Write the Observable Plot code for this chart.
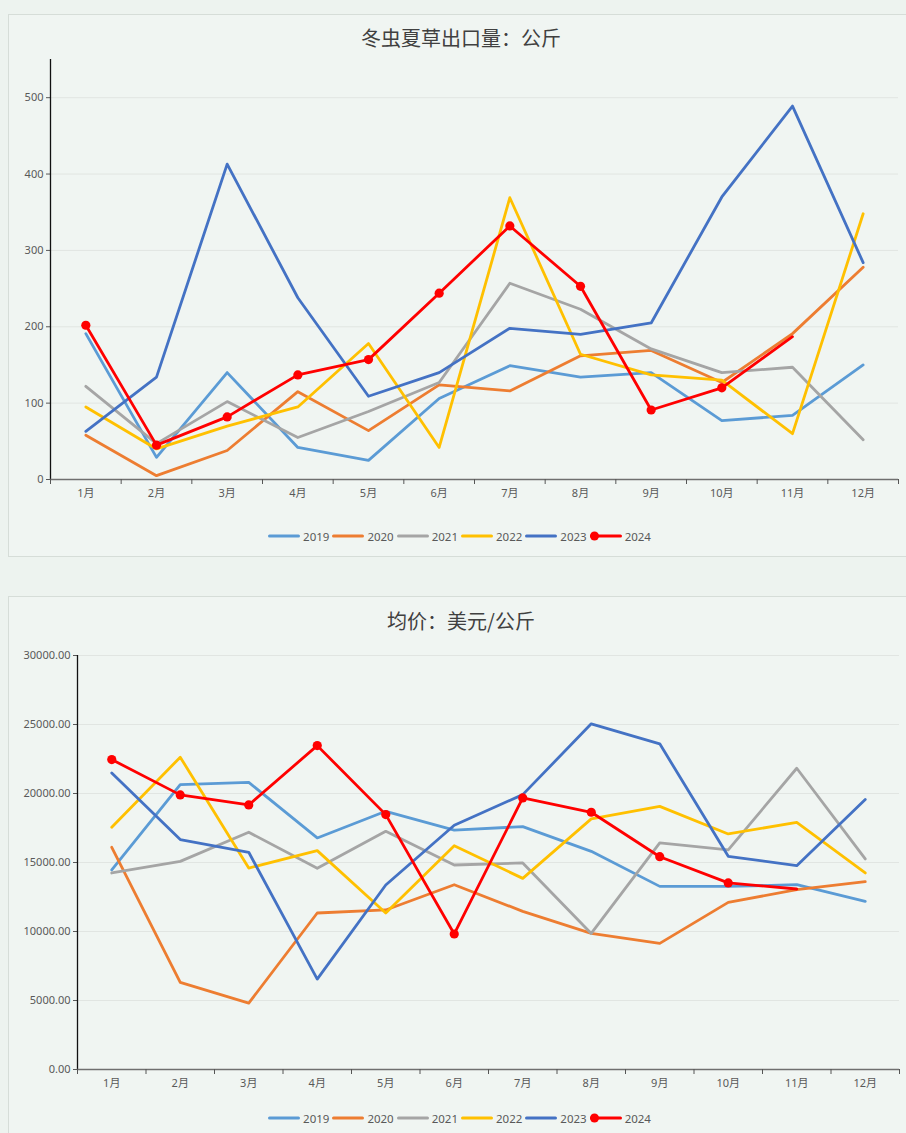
<!DOCTYPE html>
<html><head><meta charset="utf-8">
<script src="https://cdn.jsdelivr.net/npm/d3@7"></script>
<script src="https://cdn.jsdelivr.net/npm/@observablehq/plot@0.6"></script>
<style>
html,body{margin:0;padding:0}
body{width:906px;height:1133px;background:#edf3ef;position:relative;overflow:hidden;font-family:"Noto Sans","Noto Sans CJK SC",sans-serif}
.panel{position:absolute;left:8px;width:920px;background:#f0f5f2;border:1px solid #d6ddd8;box-sizing:border-box}
.title{position:absolute;left:8px;width:906px;text-align:center;font-family:"Noto Sans CJK SC",sans-serif;font-size:20px;color:#404040;line-height:24px;font-weight:400}
.plot{position:absolute;left:0}
.legend{position:absolute;left:8px;width:906px;display:flex;justify-content:center;align-items:center;height:16px;font-size:11.5px;color:#595959}
.item{display:flex;align-items:center;margin-right:3px}
.item span{margin-left:3px}
</style></head>
<body>
<div class="panel" style="top:14px;height:543px"></div>
<div class="panel" style="top:596px;height:560px"></div>
<div class="title" style="top:26px">冬虫夏草出口量：公斤</div>
<div class="title" style="top:609px">均价：美元/公斤</div>
<div id="c1" class="plot" style="top:50px"></div>
<div id="c2" class="plot" style="top:645px"></div>
<div id="l1" class="legend" style="top:528px"></div>
<div id="l2" class="legend" style="top:1110px"></div>
<script>
const months = ["1月","2月","3月","4月","5月","6月","7月","8月","9月","10月","11月","12月"];
const years = ["2019","2020","2021","2022","2023","2024"];
const colors = ["#5B9BD5","#ED7D31","#A5A5A5","#FFC000","#4472C4","#FF0000"];

// 出口量（公斤）
const volume2019 = [191,29,140,42,25,106,149,134,140,77,84,150];
const volume2020 = [58,5,38,115,64,124,116,162,169,127,191,278];
const volume2021 = [122,47,102,55,89,127,257,223,171,140,147,52];
const volume2022 = [95,40,70,95,178,42,369,164,137,130,60,348];
const volume2023 = [63,134,413,238,109,140,198,190,205,370,489,284];
const volume2024 = [202,45,82,137,157,244,332,253,91,120,187];

// 均价（美元/公斤）
const price2019 = [14460,20650,20810,16780,18710,17350,17600,15810,13270,13270,13390,12180];
const price2020 = [16100,6310,4810,11340,11560,13390,11460,9860,9140,12110,13030,13610];
const price2021 = [14240,15080,17190,14580,17260,14820,14970,9860,16420,15910,21830,15260];
const price2022 = [17550,22630,14600,15860,11340,16220,13850,18160,19070,17070,17910,14240];
const price2023 = [21490,16660,15740,6550,13370,17700,19920,25050,23600,15450,14770,19560];
const price2024 = [22460,19900,19170,23470,18470,9820,19680,18640,15420,13520,13080];

const volumeTicks = [0,100,200,300,400,500];
const priceTicks = [0,5000,10000,15000,20000,25000,30000];

const toRows = (arr, year) => arr.map((v, i) => ({year, month: months[i], i: i + 0.5, v}));

function makeChart(seriesList, {yMax, ticks, fmt, width, height, marginLeft, marginRight, marginTop, marginBottom}) {
  const marks = [
    Plot.ruleY(ticks.filter(t => t > 0), {x1: 0, x2: 12, stroke: "#e1e5e2", strokeWidth: 1}),
    Plot.axisY(ticks, {tickSize: 4, tickPadding: 3, tickFormat: fmt, label: null, fontSize: 11}),
    Plot.ruleX([0], {y1: 0, y2: yMax, stroke: "#111", strokeWidth: 1.3}),
    Plot.ruleY([0], {x1: 0, x2: 12, stroke: "#6f6f6f", strokeWidth: 1.3}),
    Plot.axisX(d3.range(13), {tickSize: 5, tickFormat: () => "", label: null, stroke: "#555"}),
    Plot.axisX(months.map((m, i) => i + 0.5), {tickSize: 0, tickPadding: 10, tickFormat: d => months[Math.floor(d)], label: null, fontSize: 11})
  ];
  seriesList.forEach((arr, k) => {
    const rows = toRows(arr, years[k]);
    marks.push(Plot.line(rows, {x: "i", y: "v", stroke: colors[k], strokeWidth: 2.8, strokeLinejoin: "round", strokeLinecap: "round"}));
    if (years[k] === "2024") {
      marks.push(Plot.dot(rows.slice(0, rows.length - 1), {x: "i", y: "v", r: 4.6, fill: colors[k], stroke: "none"}));
    }
  });
  return Plot.plot({
    width, height, marginLeft, marginRight, marginTop, marginBottom,
    x: {type: "linear", domain: [0, 12], label: null},
    y: {type: "linear", domain: [0, yMax], label: null},
    style: {fontFamily: '"Noto Sans","Noto Sans CJK SC",sans-serif', fontSize: "11px", color: "#595959", background: "transparent", overflow: "visible"},
    marks
  });
}

document.getElementById("c1").appendChild(makeChart(
  [volume2019, volume2020, volume2021, volume2022, volume2023, volume2024],
  {yMax: 550, ticks: volumeTicks, fmt: d => String(d), width: 906, height: 459, marginLeft: 50, marginRight: 8, marginTop: 9, marginBottom: 30}
));
document.getElementById("c2").appendChild(makeChart(
  [price2019, price2020, price2021, price2022, price2023, price2024],
  {yMax: 30000, ticks: priceTicks, fmt: d => d.toFixed(2), width: 906, height: 454, marginLeft: 77, marginRight: 7, marginTop: 10, marginBottom: 30}
));

function legend(el) {
  years.forEach((y, k) => {
    const item = document.createElement("div");
    item.className = "item";
    const dot = y === "2024" ? `<circle cx="4.5" cy="5" r="4.5" fill="${colors[k]}"/>` : "";
    item.innerHTML = `<svg width="32" height="10" style="overflow:visible"><line x1="1.5" x2="30.5" y1="5" y2="5" stroke="${colors[k]}" stroke-width="3" stroke-linecap="round"/>${dot}</svg><span>${y}</span>`;
    el.appendChild(item);
  });
}
legend(document.getElementById("l1"));
legend(document.getElementById("l2"));
</script>
</body></html>
